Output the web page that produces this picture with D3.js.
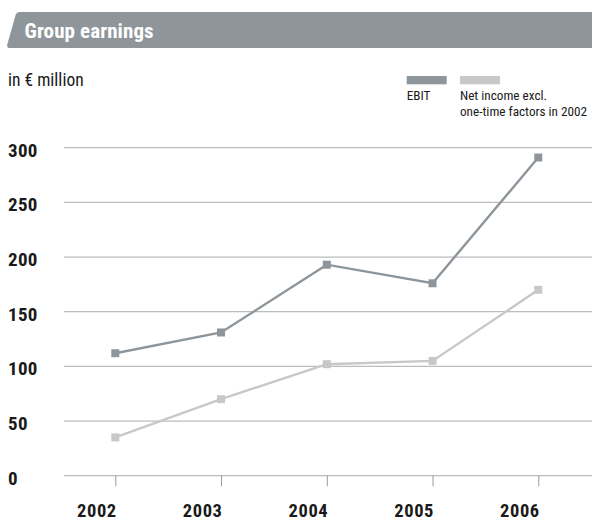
<!DOCTYPE html>
<html>
<head>
<meta charset="utf-8">
<script src="https://cdn.jsdelivr.net/npm/d3@7"></script>
<style>
  html, body { margin: 0; padding: 0; background: #fff; }
  svg { display: block; }
  text { font-family: Roboto, "Open Sans", sans-serif; font-stretch: condensed; }
</style>
</head>
<body>
<svg id="chart" width="592" height="522"></svg>
<script>
// Group earnings, in € million
const years = ["2002", "2003", "2004", "2005", "2006"];
const ebit = [112, 131, 193, 176, 291];
const netIncome = [35, 70, 102, 105, 170];
const yTicks = [0, 50, 100, 150, 200, 250, 300];
const seriesNames = ["EBIT", "Net income excl.|one-time factors in 2002"];

const colors = { ebit: "#8e969b", net: "#c8c8c8", grid: "#bcbcbc", text: "#1a1a1a" };

const svg = d3.select("#chart");

// Title band with slanted left edge
svg.append("path")
  .attr("d", "M20,12 L592,12 L592,48 L10,48 Q6.5,48 7.3,44.5 L15.6,15 Q16.5,12 20,12 Z")
  .attr("fill", colors.ebit);
svg.append("text")
  .attr("x", 24.5).attr("y", 38)
  .attr("fill", "#fff")
  .attr("font-size", 21).attr("font-weight", "bold")
  .attr("letter-spacing", 0.1)
  .text("Group earnings");

// Unit label
svg.append("text")
  .attr("x", 8).attr("y", 86)
  .attr("fill", colors.text)
  .attr("font-size", 17.5)
  .text("in € million");

// Scales
const x = d3.scalePoint().domain(years).range([115.3, 538.3]);
const y = d3.scaleLinear().domain([0, 300]).range([475.7, 147.7]);

// Horizontal gridlines
svg.append("g")
  .selectAll("line")
  .data(yTicks)
  .join("line")
  .attr("x1", 64).attr("x2", 592)
  .attr("y1", d => y(d)).attr("y2", d => y(d))
  .attr("stroke", colors.grid).attr("stroke-width", 1.2);

// Y tick labels
svg.append("g")
  .selectAll("text")
  .data(yTicks)
  .join("text")
  .attr("x", 8).attr("y", d => y(d) + 8.8)
  .attr("fill", colors.text)
  .attr("font-size", 19).attr("font-weight", "bold")
  .attr("letter-spacing", 0.3)
  .text(d => d);

// X axis: ticks below baseline, labels right-aligned to ticks
const xAxis = d3.axisBottom(x).tickSize(10.5).tickPadding(9);
const gx = svg.append("g").attr("transform", `translate(0,${y(0)})`).call(xAxis);
gx.select(".domain").remove();
gx.selectAll(".tick line").attr("stroke", "#9a9a9a").attr("stroke-width", 1);
gx.selectAll(".tick text")
  .attr("text-anchor", "end")
  .attr("dy", null)
  .attr("x", 1)
  .attr("y", 41.6)
  .attr("fill", colors.text)
  .attr("font-size", 18.5).attr("font-weight", "bold")
  .attr("font-family", null)
  .attr("letter-spacing", 0.6);

// Series lines with square markers
const line = d3.line().x((d, i) => x(years[i])).y(d => y(d));
const series = [
  { values: netIncome, color: colors.net },
  { values: ebit, color: colors.ebit }
];
series.forEach(s => {
  svg.append("path")
    .datum(s.values)
    .attr("d", line)
    .attr("fill", "none")
    .attr("stroke", s.color)
    .attr("stroke-width", 2.4);
  svg.append("g")
    .selectAll("rect")
    .data(s.values)
    .join("rect")
    .attr("x", (d, i) => x(years[i]) - 4)
    .attr("y", d => y(d) - 4)
    .attr("width", 8).attr("height", 8)
    .attr("fill", s.color);
});

// Legend
const legend = [
  { name: seriesNames[0], color: colors.ebit, x: 406.7 },
  { name: seriesNames[1], color: colors.net, x: 460 }
];
legend.forEach(l => {
  svg.append("rect")
    .attr("x", l.x).attr("y", 76)
    .attr("width", 40).attr("height", 8.3)
    .attr("fill", l.color);
  const t = svg.append("text")
    .attr("x", l.x).attr("y", 100.3)
    .attr("fill", colors.text)
    .attr("font-size", 13.2);
  l.name.split("|").forEach((part, i) => {
    t.append("tspan").attr("x", l.x).attr("dy", i === 0 ? 0 : 15.2).text(part);
  });
});
</script>
</body>
</html>
